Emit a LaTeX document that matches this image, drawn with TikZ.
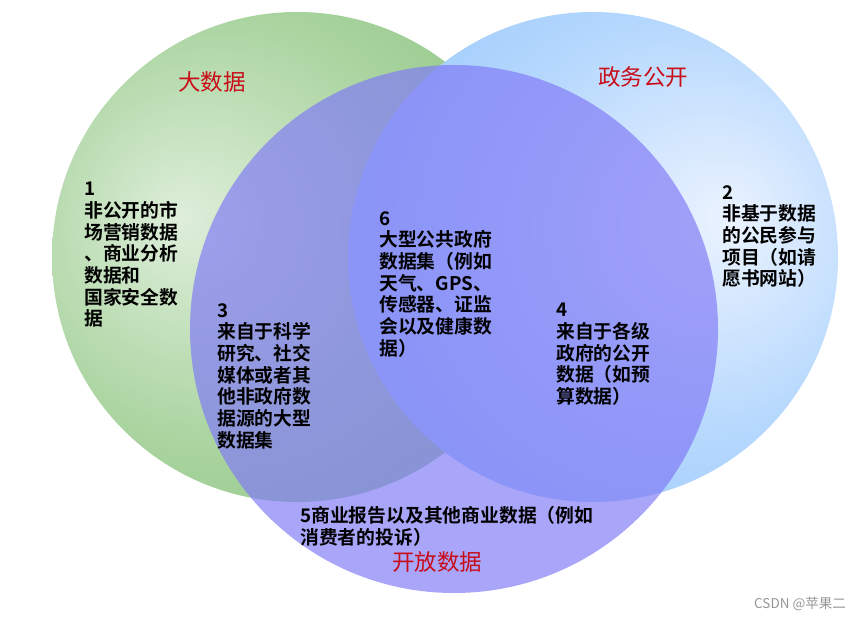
\documentclass[tikz,border=0pt]{standalone}
\usepackage{fontspec}
\setmainfont{Noto Sans CJK SC}
\newfontfamily\cjkbold{Noto Sans CJK SC Bold}
\definecolor{gEdge}{RGB}{128,190,118}
\definecolor{gMid}{RGB}{170,212,160}
\definecolor{gCtr}{RGB}{222,238,218}
\definecolor{bEdge}{RGB}{140,195,250}
\definecolor{bMid}{RGB}{180,215,253}
\definecolor{bCtr}{RGB}{235,243,255}
\definecolor{pFill}{RGB}{128,122,246}
\definecolor{titleRed}{RGB}{200,12,24}
\definecolor{wmGray}{RGB}{150,150,150}
\pgfdeclareradialshading{greenshade}{\pgfpoint{-12bp}{4bp}}{color(0bp)=(gCtr); color(22bp)=(gMid); color(45bp)=(gEdge); color(70bp)=(gEdge)}
\pgfdeclareradialshading{blueshade}{\pgfpoint{14bp}{4bp}}{color(0bp)=(bCtr); color(22bp)=(bMid); color(45bp)=(bEdge); color(70bp)=(bEdge)}
\tikzset{
  bodytxt/.style={anchor=north west, inner sep=0pt, align=left, font=\cjkbold\fontsize{18.8}{21.7}\selectfont, text=black},
  titletxt/.style={inner sep=0pt, font=\fontsize{22.5}{26}\selectfont, text=titleRed},
}
\begin{document}
\begin{tikzpicture}[x=1pt,y=-1pt]
\useasboundingbox (0,0) rectangle (866,620);
% circles
\shade[shading=greenshade] (297,257) circle[radius=245pt];
\shade[shading=blueshade] (593,257) circle[radius=245pt];
\fill[pFill, fill opacity=0.68] (454,329) circle[radius=264pt];
% titles
\node[titletxt] (tBig) at (212,82) {大数据};
\node[titletxt] (tGov) at (643,77) {政务公开};
\node[titletxt] (tOpen) at (437,562) {开放数据};
% region texts
\node[bodytxt] (r1) at (84,182) {1\\非公开的市\\场营销数据\\、商业分析\\数据和\\国家安全数\\据};
\node[bodytxt] (r2) at (722,185) {2\\非基于数据\\的公民参与\\项目（如请\\愿书网站）};
\node[bodytxt] (r3) at (217,303) {3\\来自于科学\\研究、社交\\媒体或者其\\他非政府数\\据源的大型\\数据集};
\node[bodytxt] (r6) at (379,211) {6\\大型公共政府\\数据集（例如\\天气、GPS、\\传感器、证监\\会以及健康数\\据）};
\node[bodytxt] (r4) at (556,303) {4\\来自于各级\\政府的公开\\数据（如预\\算数据）};
\node[bodytxt] (r5) at (300,506) {5商业报告以及其他商业数据（例如\\消费者的投诉）};
% watermark
\node[inner sep=0pt, font=\fontsize{13.5}{15}\selectfont, text=wmGray] (wm) at (800,604) {CSDN @苹果二};
\end{tikzpicture}
\end{document}
